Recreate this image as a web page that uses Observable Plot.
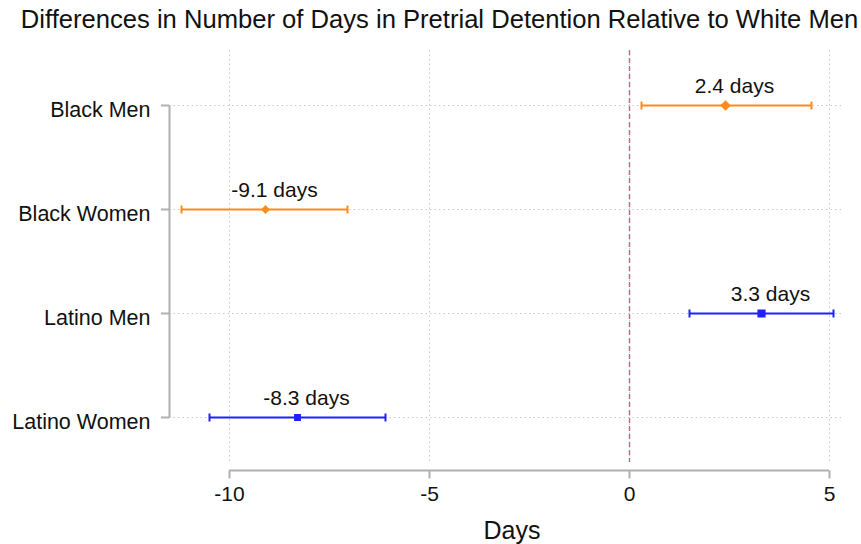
<!DOCTYPE html>
<html>
<head>
<meta charset="utf-8">
<script src="https://cdn.jsdelivr.net/npm/d3@7"></script>
<script src="https://cdn.jsdelivr.net/npm/@observablehq/plot@0.6"></script>
<style>
  body { margin: 0; background: #fff; font-family: "Liberation Sans", Arial, sans-serif; }
  #title { height: 40px; line-height: 38px; font-size: 25.6px; color: #111; text-align: center; padding-left: 18px; white-space: nowrap; }
  #xlabel { height: 24px; line-height: 20px; font-size: 25px; color: #111; text-align: center; padding-left: 163px; }
  svg { display: block; }
</style>
</head>
<body>
<div id="title">Differences in Number of Days in Pretrial Detention Relative to White Men</div>
<div id="chart"></div>
<div id="xlabel">Days</div>
<script>
const categories = ["Black Men", "Black Women", "Latino Men", "Latino Women"];
const race = ["Black", "Black", "Latino", "Latino"];
const sex = ["Men", "Women", "Men", "Women"];
const estimates = [2.4, -9.1, 3.3, -8.3];
const lower = [0.3, -11.2, 1.5, -10.5];
const upper = [4.55, -7.05, 5.1, -6.1];
const xTicks = [-10, -5, 0, 5];
const xDomain = [-11.5, 5.3];

const data = categories.map((c, i) => ({
  cat: c, race: race[i], sex: sex[i], est: estimates[i], lo: lower[i], hi: upper[i],
  label: `${estimates[i].toFixed(1)} days`
}));

// vertical cap symbol for error-bar ends
const capSymbol = {
  draw(context, size) {
    const h = Math.sqrt(size / Math.PI);
    context.moveTo(0, -h);
    context.lineTo(0, h);
  }
};
// downward tick symbol for the x axis
const downTick = {
  draw(context, size) {
    const h = Math.sqrt(size / Math.PI);
    context.moveTo(0, 0);
    context.lineTo(0, h);
  }
};
const lastCat = categories[categories.length - 1];

const plot = Plot.plot({
  width: 861,
  height: 480,
  marginLeft: 169,
  marginRight: 20,
  marginTop: 10,
  marginBottom: 58,
  style: { fontFamily: "'Liberation Sans', Arial, sans-serif", color: "#111", background: "#fff" },
  x: { domain: xDomain, label: null },
  y: { type: "point", domain: categories, range: [65, 377], padding: 0, label: null },
  color: { domain: ["Black", "Latino"], range: ["#ff8a1c", "#2020ff"] },
  symbol: { domain: ["Black", "Latino"], range: ["diamond2", "square"] },
  marks: [
    Plot.gridX(xTicks, { stroke: "#c8c8c8", strokeOpacity: 1, strokeDasharray: "1.5,3" }),
    Plot.gridY(categories, { stroke: "#c8c8c8", strokeOpacity: 1, strokeDasharray: "1.5,3" }),
    Plot.ruleX([0], { stroke: "#e8508a", strokeWidth: 1.4, strokeDasharray: "5,3" }),
    // y axis line
    Plot.link([0], { x1: () => xDomain[0], x2: () => xDomain[0], y1: () => categories[0], y2: () => lastCat, stroke: "#b0b0b0", strokeWidth: 2 }),
    Plot.axisY({ tickSize: 8, stroke: "#b0b0b0", strokeWidth: 2, tickFormat: () => "" }),
    Plot.axisY({ tickSize: 0, tickPadding: 19, dy: 5, fontSize: 21.5, fill: "#111", tickFormat: d => d }),
    // x axis line and ticks
    Plot.ruleY([lastCat], { x1: xTicks[0], x2: xTicks[xTicks.length - 1], dy: 53, stroke: "#b0b0b0", strokeWidth: 2 }),
    Plot.dot(xTicks, { x: d => d, y: () => lastCat, dy: 53, symbol: downTick, r: 8, stroke: "#b0b0b0", strokeWidth: 2, fill: "none" }),
    Plot.axisX({ ticks: xTicks, tickSize: 0, tickPadding: 24, fontSize: 21, fill: "#111", tickFormat: d => String(d) }),
    // error bars
    Plot.ruleY(data, { y: "cat", x1: "lo", x2: "hi", stroke: "race", strokeWidth: 2 }),
    Plot.dot(data, { y: "cat", x: "lo", stroke: "race", fill: "none", strokeWidth: 2, symbol: capSymbol, r: 4 }),
    Plot.dot(data, { y: "cat", x: "hi", stroke: "race", fill: "none", strokeWidth: 2, symbol: capSymbol, r: 4 }),
    Plot.dot(data, { y: "cat", x: "est", fill: "race", stroke: "race", symbol: "race", r: d => d.sex === "Men" ? 5.5 : 3.5 }),
    Plot.text(data, { y: "cat", x: "est", text: "label", dy: -19, dx: 9, fontSize: 21, fill: "#111" })
  ]
});
document.getElementById("chart").appendChild(plot);
</script>
</body>
</html>
